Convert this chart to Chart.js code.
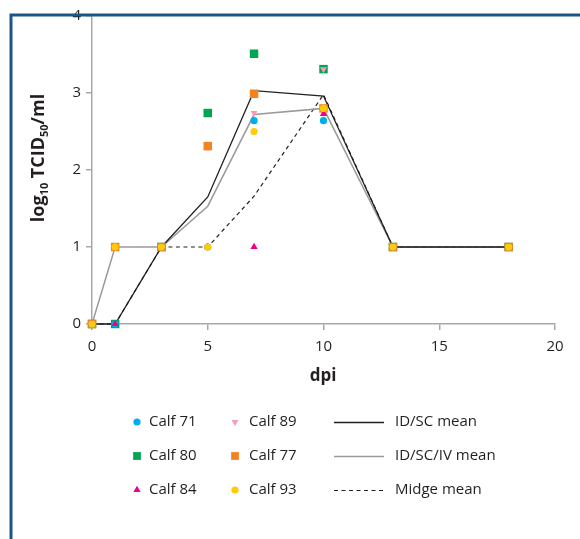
<!DOCTYPE html>
<html>
<head>
<meta charset="utf-8">
<script src="https://cdn.jsdelivr.net/npm/chart.js@4.4.0/dist/chart.umd.min.js"></script>
<style>
  html, body { margin: 0; padding: 0; background: #fff; }
  #wrap { width: 580px; height: 539px; }
</style>
</head>
<body>
<div id="wrap"><canvas id="c" width="580" height="539"></canvas></div>
<script>
// days post infection
const days = [0, 1, 3, 5, 7, 10, 13, 18];

// individual calves (log10 TCID50/ml)
const calf71 = [0, 0, 1, 1, 2.64, 2.64, 1, 1];
const calf80 = [0, 0, 1, 2.74, 3.51, 3.31, 1, 1];
const calf84 = [0, 0, 1, 1, 1, 2.73, 1, 1];
const calf89 = [0, 1, 1, 1, 2.74, 3.31, 1, 1];
const calf77 = [0, 1, 1, 2.31, 2.99, 2.8, 1, 1];
const calf93 = [0, 1, 1, 1, 2.5, 2.8, 1, 1];

// group means
const idscMean = [0, 0, 1, 1.65, 3.03, 2.96, 1, 1];
const idscivMean = [0, 1, 1, 1.53, 2.72, 2.8, 1, 1];
const midgeMean = [0, 0, 1, 1, 1.66, 2.98, 1, 1];

const xTicks = [0, 5, 10, 15, 20];
const yTicks = [0, 1, 2, 3, 4];

const FONT = '"Open Sans", "Noto Sans", sans-serif';
const TXT = '#231f20';

function pts(vals) {
    return days.map((d, i) => ({ x: d, y: vals[i] }));
}

function calf(label, vals, color, style, radius, rotation, order) {
    return {
        label: label,
        data: pts(vals),
        showLine: false,
        clip: false,
        pointStyle: style,
        pointRotation: rotation || 0,
        pointRadius: radius,
        pointBackgroundColor: color,
        pointBorderColor: color,
        pointBorderWidth: 0,
        backgroundColor: color,
        borderColor: color,
        order: order
    };
}

function meanLine(label, vals, color, width, dash, order) {
    return {
        label: label,
        data: pts(vals),
        showLine: true,
        clip: false,
        borderColor: color,
        borderWidth: width,
        borderDash: dash,
        pointRadius: 0,
        fill: false,
        tension: 0,
        order: order
    };
}

// lower order = drawn on top
const datasets = [
    calf('Calf 71', calf71, '#00aeef', 'circle', 3.6, 0, 4),
    calf('Calf 80', calf80, '#00a651', 'rect', 6, 0, 6),
    calf('Calf 84', calf84, '#ec008c', 'triangle', 4.2, 0, 2),
    calf('Calf 89', calf89, '#f49ac1', 'triangle', 4, 180, 3),
    calf('Calf 77', calf77, '#f58220', 'rect', 6, 0, 5),
    calf('Calf 93', calf93, '#ffcb05', 'circle', 3.6, 0, 1),
    meanLine('ID/SC mean', idscMean, '#231f20', 1.3, [], 7),
    meanLine('ID/SC/IV mean', idscivMean, '#9a9a9a', 1.5, [], 8),
    meanLine('Midge mean', midgeMean, '#231f20', 1.2, [4, 3.5], 9)
];

// frame, axis titles (y one has subscripts), and the 3-column legend
const decor = {
    id: 'decor',
    afterDraw(chart) {
        const ctx = chart.ctx;
        ctx.save();

        // x axis title
        ctx.fillStyle = TXT;
        ctx.font = 'bold 17px ' + FONT;
        ctx.textAlign = 'center';
        ctx.textBaseline = 'middle';
        ctx.fillText('dpi', 323, 376);
        ctx.textAlign = 'left';

        // y axis title
        const parts = [
            ['log', false], ['10', true], [' TCID', false], ['50', true], ['/ml', false]
        ];
        const big = 'bold 18px ' + FONT, small = 'bold 11px ' + FONT;
        let total = 0;
        parts.forEach(p => { ctx.font = p[1] ? small : big; total += ctx.measureText(p[0]).width; });
        ctx.translate(44, 158);
        ctx.rotate(-Math.PI / 2);
        ctx.textBaseline = 'alphabetic';
        let x = -total / 2;
        parts.forEach(p => {
            ctx.font = p[1] ? small : big;
            ctx.fillText(p[0], x, p[1] ? 4 : 0);
            x += ctx.measureText(p[0]).width;
        });
        ctx.setTransform(1, 0, 0, 1, 0, 0);

        // legend
        const cols = [[137, 149], [235, 249], [334, 395]];
        const rows = [422, 456, 490];
        const layout = [
            [0, 0, 0], [1, 0, 1], [2, 0, 2],
            [3, 1, 0], [4, 1, 1], [5, 1, 2],
            [6, 2, 0], [7, 2, 1], [8, 2, 2]
        ];
        ctx.font = '15px ' + FONT;
        ctx.textBaseline = 'middle';
        layout.forEach(([di, c, r]) => {
            const ds = chart.data.datasets[di];
            const y = rows[r];
            if (ds.showLine) {
                ctx.beginPath();
                ctx.strokeStyle = ds.borderColor;
                ctx.lineWidth = ds.borderWidth;
                ctx.setLineDash(ds.borderDash);
                ctx.moveTo(cols[c][0], y + 0.5);
                ctx.lineTo(cols[c][0] + 50, y + 0.5);
                ctx.stroke();
                ctx.setLineDash([]);
            } else {
                ctx.fillStyle = ds.pointBackgroundColor;
                ctx.strokeStyle = ds.pointBorderColor;
                Chart.helpers.drawPoint(ctx, {
                    pointStyle: ds.pointStyle,
                    rotation: ds.pointRotation,
                    radius: ds.pointStyle === 'rect' ? 5.5 : ds.pointRadius,
                    borderWidth: 0
                }, cols[c][0], y);
            }
            ctx.fillStyle = TXT;
            ctx.fillText(ds.label, cols[c][1], y);
        });

        // frame (top and left)
        ctx.strokeStyle = '#1b5687';
        ctx.lineWidth = 3;
        ctx.beginPath();
        ctx.moveTo(580, 15);
        ctx.lineTo(11, 15);
        ctx.lineTo(11, 539);
        ctx.stroke();
        ctx.restore();
    }
};

new Chart(document.getElementById('c'), {
    type: 'scatter',
    data: { datasets: datasets },
    options: {
        responsive: false,
        animation: false,
        devicePixelRatio: 1,
        layout: { padding: { top: 16, right: 25, left: 0, bottom: 0 } },
        plugins: {
            legend: { display: false },
            tooltip: { enabled: false }
        },
        scales: {
            x: {
                type: 'linear',
                min: 0,
                max: 20,
                afterBuildTicks: s => { s.ticks = xTicks.map(v => ({ value: v })); },
                afterFit: s => { s.height = 215; },
                border: { color: '#a8a8a8', width: 1.5 },
                grid: { display: true, drawOnChartArea: false, tickLength: 6, color: '#a8a8a8', lineWidth: 1.5 },
                ticks: { font: { family: FONT, size: 15 }, color: TXT, padding: 8 }
            },
            y: {
                type: 'linear',
                min: 0,
                max: 4,
                afterBuildTicks: s => { s.ticks = yTicks.map(v => ({ value: v })); },
                afterFit: s => { s.width = 92; },
                border: { color: '#a8a8a8', width: 1.5 },
                grid: { display: true, drawOnChartArea: false, tickLength: 6, color: '#a8a8a8', lineWidth: 1.5 },
                ticks: { font: { family: FONT, size: 15 }, color: TXT, padding: 5 }
            }
        }
    },
    plugins: [decor]
});
</script>
</body>
</html>
